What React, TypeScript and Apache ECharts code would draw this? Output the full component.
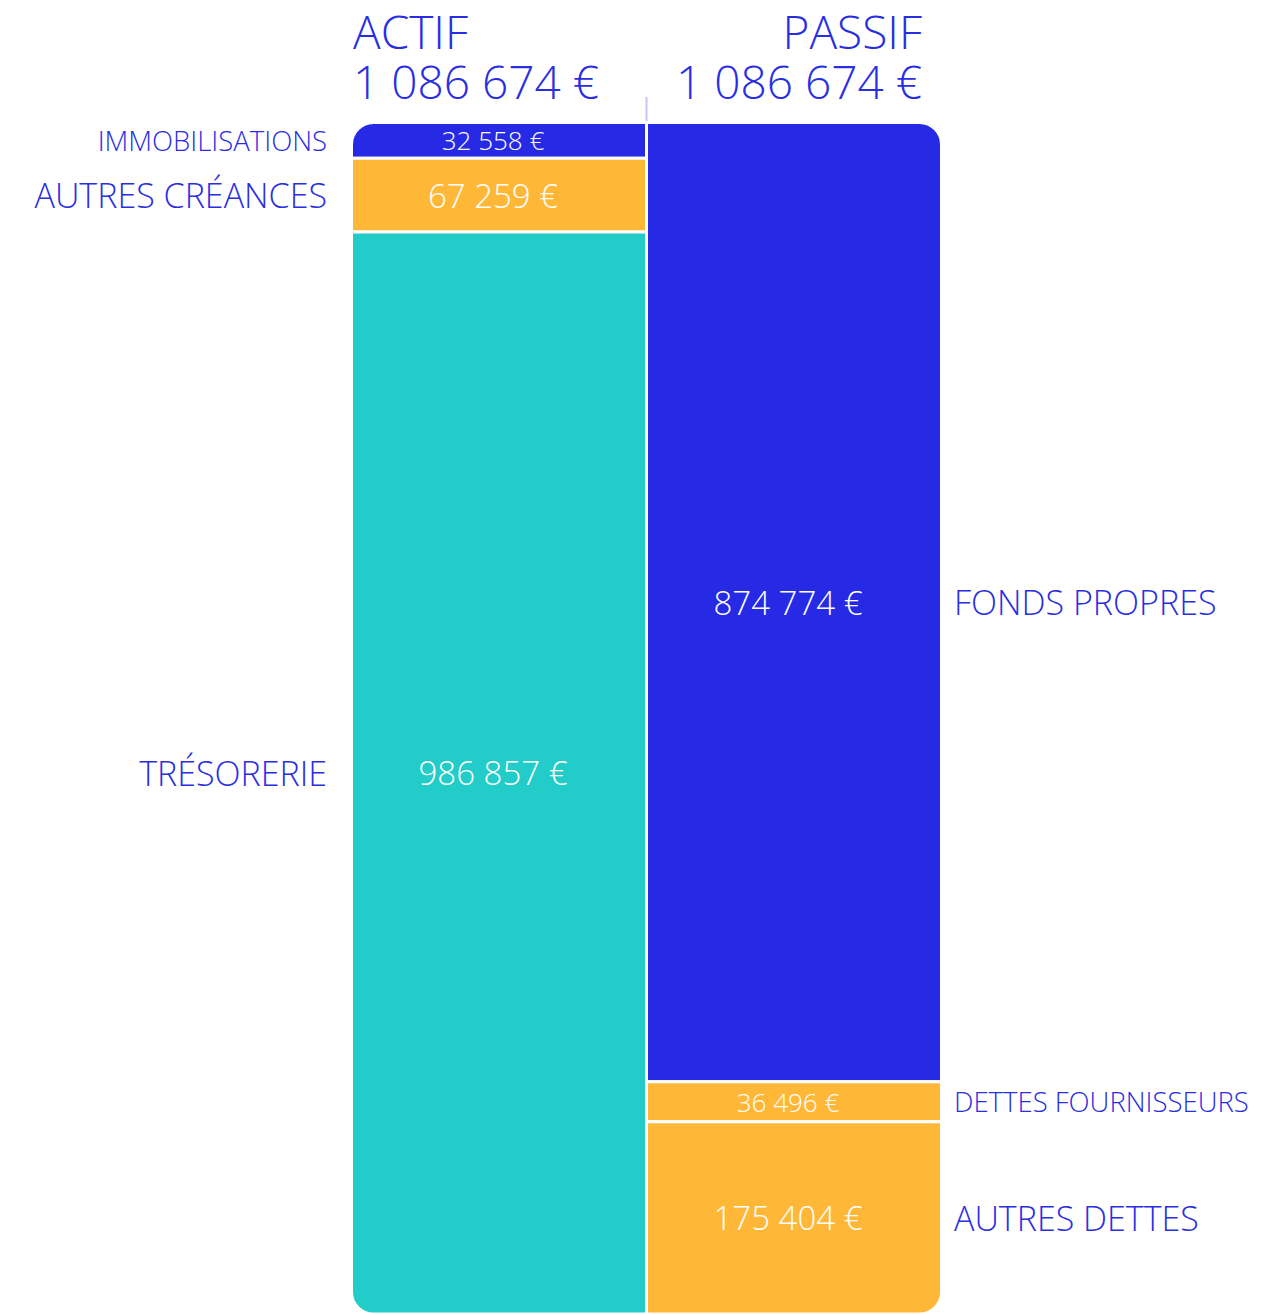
import React, { useEffect, useRef } from "react";
import * as echarts from "echarts";

const columns = ["ACTIF", "PASSIF"];
const actifLabels = ["IMMOBILISATIONS", "AUTRES CRÉANCES", "TRÉSORERIE"];
const actifValues = [32558, 67259, 986857];
const passifLabels = ["FONDS PROPRES", "DETTES FOURNISSEURS", "AUTRES DETTES"];
const passifValues = [874774, 36496, 175404];

const actifColors = ["#262AE5", "#FFB737", "#22CCC8"];
const passifColors = ["#262AE5", "#FFB737", "#FFB737"];

const TEXT_BLUE = "#2A2EE2";
const FONT = "'Open Sans', 'Noto Sans', sans-serif";

const fmt = (n: number) =>
  String(n).replace(/\B(?=(\d{3})+(?!\d))/g, " ") + " €";

type Item = {
  col: number;
  start: number;
  end: number;
  value: number;
  name: string;
  color: string;
  first: boolean;
  last: boolean;
};

function buildItems(): Item[] {
  const items: Item[] = [];
  const groups = [
    { labels: actifLabels, values: actifValues, colors: actifColors },
    { labels: passifLabels, values: passifValues, colors: passifColors },
  ];
  groups.forEach((g, col) => {
    let acc = 0;
    g.values.forEach((v, i) => {
      items.push({
        col,
        start: acc,
        end: acc + v,
        value: v,
        name: g.labels[i],
        color: g.colors[i],
        first: i === 0,
        last: i === g.values.length - 1,
      });
      acc += v;
    });
  });
  return items;
}

export default function App() {
  const ref = useRef<HTMLDivElement>(null);

  useEffect(() => {
    document.body.style.margin = "0";
    if (!ref.current) return;
    const chart = echarts.init(ref.current, undefined, { renderer: "svg" });
    const items = buildItems();
    const totalActif = actifValues.reduce((a, b) => a + b, 0);
    const totalPassif = passifValues.reduce((a, b) => a + b, 0);
    const maxTotal = Math.max(totalActif, totalPassif);
    const R = 22;

    const headStyle = {
      fontSize: 46,
      lineHeight: 46,
      fontFamily: FONT,
      fontWeight: 300,
      fill: TEXT_BLUE,
      verticalAlign: "middle",
    };

    const option: any = {
      animation: false,
      backgroundColor: "#ffffff",
      grid: { left: 351.5, top: 122.5, width: 590, height: 1192.5 },
      xAxis: {
        type: "category",
        data: columns,
        show: false,
        boundaryGap: true,
      },
      yAxis: {
        type: "value",
        min: 0,
        max: maxTotal,
        inverse: true,
        show: false,
      },
      graphic: [
        {
          type: "text",
          style: { ...headStyle, text: columns[0], x: 353, y: 31, align: "left" },
        },
        {
          type: "text",
          style: { ...headStyle, text: fmt(totalActif), x: 353, y: 81, align: "left" },
        },
        {
          type: "text",
          style: { ...headStyle, text: columns[1], x: 922, y: 31, align: "right" },
        },
        {
          type: "text",
          style: { ...headStyle, text: fmt(totalPassif), x: 922, y: 81, align: "right" },
        },
        {
          type: "line",
          shape: { x1: 646.5, y1: 97, x2: 646.5, y2: 122 },
          style: { stroke: "#C4C6F6", lineWidth: 2 },
        },
      ],
      series: [
        {
          type: "custom",
          data: items.map((it) => [it.col, it.start, it.end, it.value]),
          encode: { x: 0, y: [1, 2] },
          renderItem: (params: any, api: any) => {
            const it = items[params.dataIndex];
            const col = api.value(0);
            const p0 = api.coord([col, api.value(1)]);
            const p1 = api.coord([col, api.value(2)]);
            const bw = api.size([1, 0])[0];
            const x = p0[0] - bw / 2;
            const y = p0[1];
            const h = p1[1] - p0[1];
            const r =
              col === 0
                ? [it.first ? R : 0, 0, 0, it.last ? R : 0]
                : [0, it.first ? R : 0, it.last ? R : 0, 0];
            const small = h < 60;
            const cy = y + h / 2;
            return {
              type: "group",
              children: [
                {
                  type: "rect",
                  shape: { x, y, width: bw, height: h, r },
                  style: { fill: it.color, stroke: "#ffffff", lineWidth: 3 },
                },
                {
                  type: "text",
                  style: {
                    text: fmt(it.value),
                    x: x + bw / 2 - 6,
                    y: cy,
                    align: "center",
                    verticalAlign: "middle",
                    fill: "#ffffff",
                    fontSize: small ? 26 : 33,
                    fontFamily: FONT,
                    fontWeight: 300,
                  },
                },
                {
                  type: "text",
                  style: {
                    text: it.name,
                    x: col === 0 ? x - 24.5 : x + bw + 12.5,
                    y: cy,
                    align: col === 0 ? "right" : "left",
                    verticalAlign: "middle",
                    fill: TEXT_BLUE,
                    fontSize: small ? 27.5 : 34,
                    fontFamily: FONT,
                    fontWeight: 300,
                  },
                },
              ],
            };
          },
        },
      ],
    };
    chart.setOption(option);
    return () => chart.dispose();
  }, []);

  return <div ref={ref} style={{ width: 1285, height: 1314 }} />;
}
